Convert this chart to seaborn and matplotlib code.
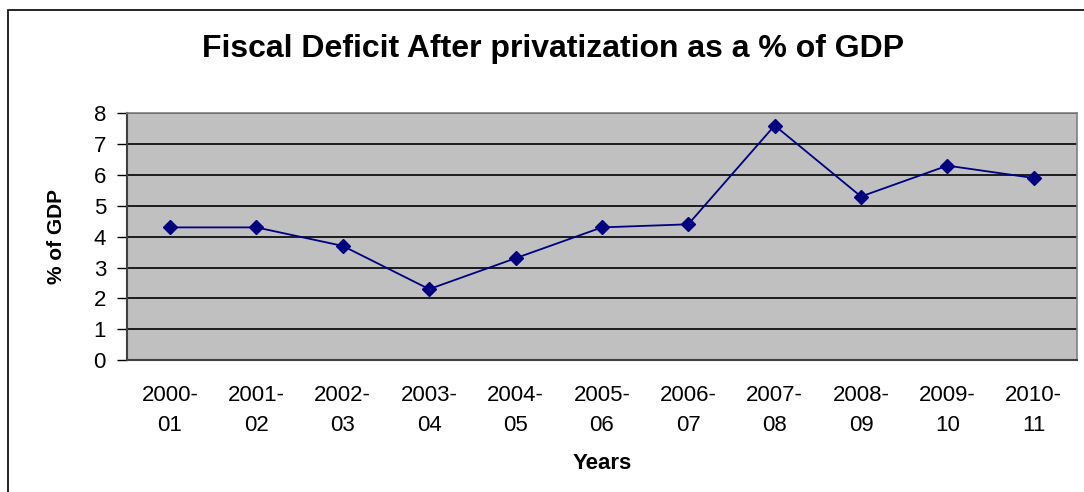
import matplotlib
matplotlib.use("Agg")
import matplotlib.pyplot as plt
import seaborn as sns
import pandas as pd
from matplotlib.patches import Rectangle
from matplotlib.ticker import FixedLocator

years = ["2000-\n01", "2001-\n02", "2002-\n03", "2003-\n04", "2004-\n05", "2005-\n06",
         "2006-\n07", "2007-\n08", "2008-\n09", "2009-\n10", "2010-\n11"]
deficit = [4.3, 4.3, 3.7, 2.3, 3.3, 4.3, 4.4, 7.6, 5.3, 6.3, 5.9]
yticks = [0, 1, 2, 3, 4, 5, 6, 7, 8]

sns.set_style("white")
plt.rcParams["font.family"] = ["Liberation Sans", "DejaVu Sans"]
plt.rcParams["text.color"] = "black"
plt.rcParams["axes.labelcolor"] = "black"
plt.rcParams["xtick.color"] = "black"
plt.rcParams["ytick.color"] = "black"

df = pd.DataFrame({"Years": years, "val": deficit})

fig = plt.figure(figsize=(10.84, 4.92), dpi=100)
ax = fig.add_axes([0.117, 0.268, 0.8765, 0.502])
ax.set_facecolor("#C0C0C0")

sns.pointplot(data=df, x="Years", y="val", ax=ax, color="#000080",
              markers="D", markersize=7, linewidth=1.3, order=years)

ax.set_ylim(0, 8)
ax.set_xlim(-0.5, len(years) - 0.5)
ax.set_yticks(yticks)
ax.set_yticklabels([str(t) for t in yticks], fontsize=16)
ax.yaxis.grid(True, color="black", linewidth=1.2)
ax.set_axisbelow(True)
ax.set_xticks(range(len(years)))
ax.set_xticklabels(years, fontsize=16, linespacing=1.55)
ax.tick_params(axis="x", length=0, pad=18)
ax.xaxis.set_minor_locator(FixedLocator([i - 0.5 for i in range(len(years) + 1)]))
ax.tick_params(axis="x", which="minor", length=7, width=1, color="black", direction="out")
ax.tick_params(axis="y", length=7, width=1, color="black", direction="out", left=True, pad=8)

for s in ["left", "bottom"]:
    ax.spines[s].set_color("#404040")
    ax.spines[s].set_linewidth(1.5)
for s in ["top", "right"]:
    ax.spines[s].set_color("#808080")
    ax.spines[s].set_linewidth(1.2)

ax.set_xlabel("Years", fontsize=16, fontweight="bold", labelpad=12)
ax.set_ylabel("% of GDP", fontsize=15, fontweight="bold", labelpad=20)
fig.suptitle("Fiscal Deficit After privatization as a % of GDP", fontsize=23,
             fontweight="bold", x=0.51, y=0.93)

fig.patches.append(Rectangle((8 / 1084, -0.05), 1.0, 1 - 10 / 492 + 0.05,
                             transform=fig.transFigure, fill=False,
                             edgecolor="black", linewidth=1.2))

fig.savefig("out.png", dpi=100)
